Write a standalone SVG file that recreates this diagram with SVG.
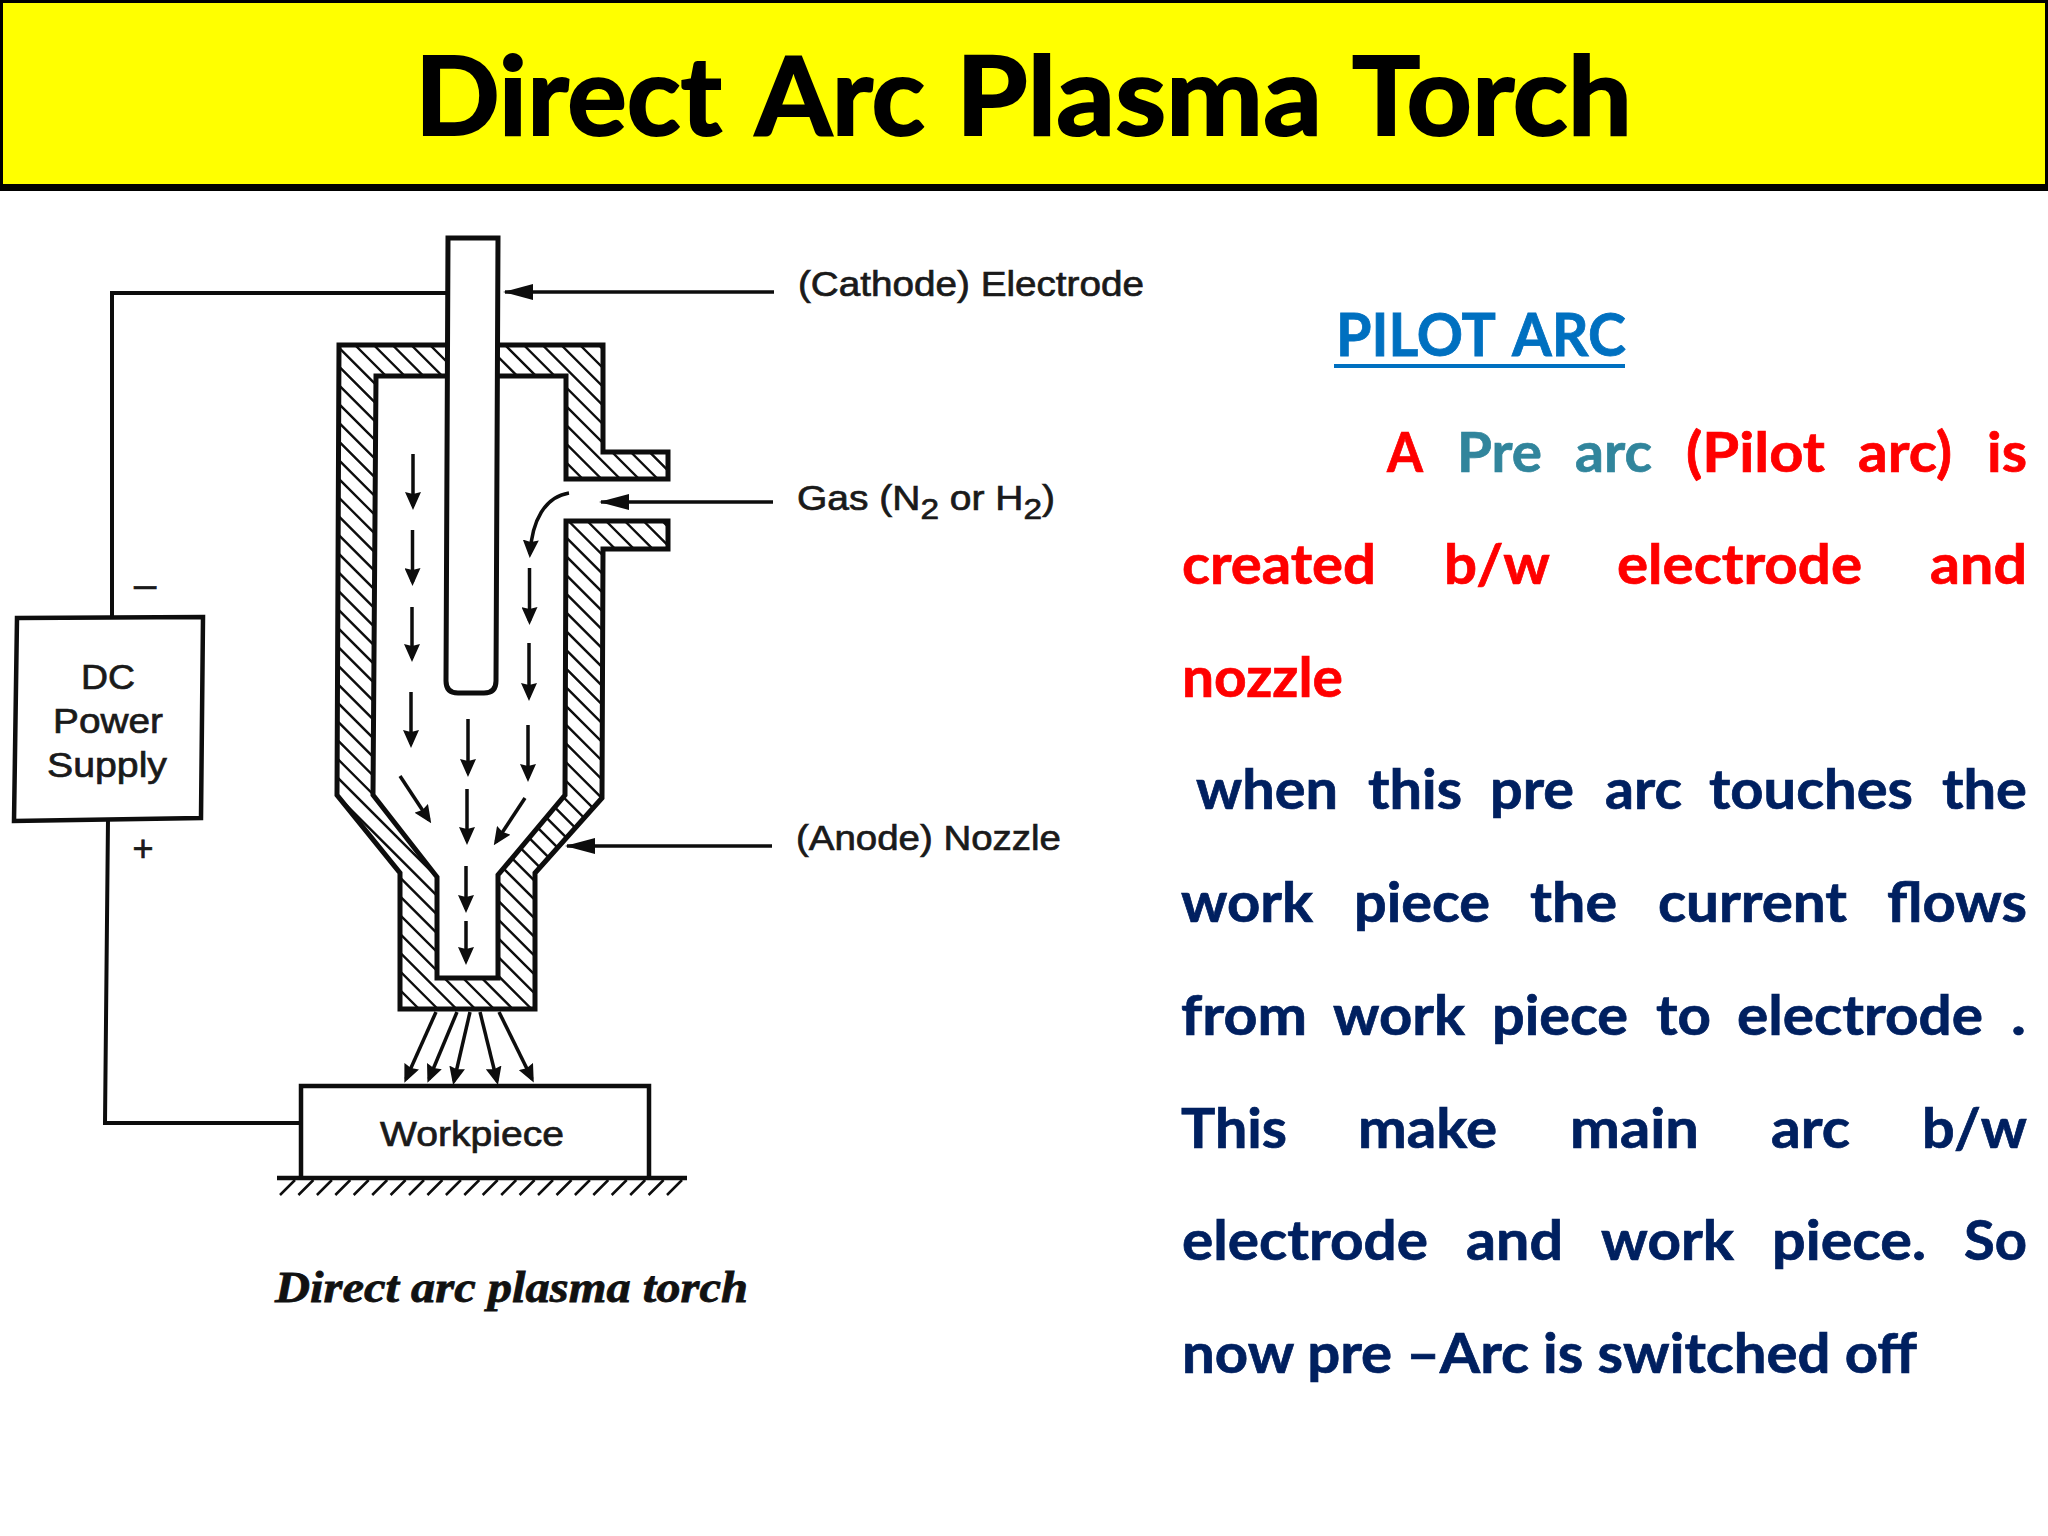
<svg xmlns="http://www.w3.org/2000/svg" width="2048" height="1536" viewBox="0 0 2048 1536">
<style>
.wire{fill:none;stroke:#0d0d0d;stroke-width:4}
.flow{fill:none;stroke:#0d0d0d;stroke-width:3.5;marker-end:url(#head)}
.lead{fill:none;stroke:#0d0d0d;stroke-width:3.5;marker-end:url(#big)}
.lab{font-family:"Liberation Sans",Arial,sans-serif;font-size:35px;fill:#1a1a1a;stroke:#1a1a1a;stroke-width:.7}
.cal{font-family:Lato,"Open Sans",sans-serif;font-weight:700;font-size:55px;stroke-width:.7}
.ttl{font-family:Lato,"Open Sans",sans-serif;font-weight:700;font-size:109px;fill:#000;stroke:#000;stroke-width:2}
.pil{font-family:Lato,"Open Sans",sans-serif;font-weight:700;font-size:60px;fill:#0070c0;stroke:#0070c0;stroke-width:.8}
.r{fill:#ff0000;stroke:#ff0000}.t{fill:#31859c;stroke:#31859c}.n{fill:#002060;stroke:#002060}
</style>
<defs>
<marker id="head" markerUnits="userSpaceOnUse" markerWidth="18" markerHeight="16" refX="14" refY="8" orient="auto"><path d="M0,0 L18,8 L0,16 L2,8Z" fill="#0d0d0d"/></marker>
<marker id="big" markerUnits="userSpaceOnUse" markerWidth="30" markerHeight="16" refX="28" refY="8" orient="auto"><path d="M0,0 L30,8 L0,16Z" fill="#0d0d0d"/></marker>
<clipPath id="bodyClip"><path d="M566,479 H668 V452 H603 V345 H339 L337,795 L400,873 V1009 H535 V873 L602,798 L603,549 H668 V521 H566 L565,795 L498,875 V978 H437 V877 L373,795 L376,376 H566 Z"/></clipPath>
</defs>
<rect width="2048" height="1536" fill="#fff"/>
<g id="title-banner">
<rect x="1.5" y="1.5" width="2045" height="186" fill="#ffff00" stroke="#000" stroke-width="3"/>
<rect x="0" y="184" width="2048" height="7" fill="#000"/>
<text class="ttl" x="415" y="135" textLength="307" lengthAdjust="spacingAndGlyphs">Direct</text>
<text class="ttl" x="755" y="135" textLength="170" lengthAdjust="spacingAndGlyphs">Arc</text>
<text class="ttl" x="956" y="135" textLength="366" lengthAdjust="spacingAndGlyphs">Plasma</text>
<text class="ttl" x="1352" y="135" textLength="280" lengthAdjust="spacingAndGlyphs">Torch</text>
</g>
<g id="connectors">
<path class="wire" d="M448,293 H112 V617"/>
<path class="wire" d="M108,819 L105,1123 H301"/>
<path class="lead" d="M774,292 H505"/>
<path class="lead" d="M773,502 H601"/>
<path class="lead" d="M772,846 H567"/>
<path class="flow" d="M413,454 V506"/>
<path class="flow" d="M412.5,530 V582"/>
<path class="flow" d="M412,607 V658"/>
<path class="flow" d="M411,692 V744"/>
<path class="flow" d="M569,493 C545,497 532,520 530,554"/>
<path class="flow" d="M529.5,568 V621"/>
<path class="flow" d="M529,643 V697"/>
<path class="flow" d="M528,725 V778"/>
<path class="flow" d="M468,719 V773"/>
<path class="flow" d="M467,789 V841"/>
<path class="flow" d="M466,866 V909"/>
<path class="flow" d="M466,921 V961"/>
<path class="flow" d="M400,776 L429,820"/>
<path class="flow" d="M525,798 L496,842"/>
<path class="flow" d="M436,1012 L406,1079"/>
<path class="flow" d="M457,1012 L429,1079"/>
<path class="flow" d="M470,1012 L454,1081"/>
<path class="flow" d="M480,1012 L497,1081"/>
<path class="flow" d="M499,1012 L532,1079"/>
</g>
<g id="torch-body">
<g clip-path="url(#bodyClip)">
<path fill="none" stroke="#0d0d0d" stroke-width="2.3" d="M-325,340l675,675M-306.25,340l675,675M-287.5,340l675,675M-268.75,340l675,675M-250,340l675,675M-231.25,340l675,675M-212.5,340l675,675M-193.75,340l675,675M-175,340l675,675M-156.25,340l675,675M-137.5,340l675,675M-118.75,340l675,675M-100,340l675,675M-81.25,340l675,675M-62.5,340l675,675M-43.75,340l675,675M-25,340l675,675M-6.25,340l675,675M12.5,340l675,675M31.25,340l675,675M50,340l675,675M68.75,340l675,675M87.5,340l675,675M106.25,340l675,675M125,340l675,675M143.75,340l675,675M162.5,340l675,675M181.25,340l675,675M200,340l675,675M218.75,340l675,675M237.5,340l675,675M256.25,340l675,675M275,340l675,675M293.75,340l675,675M312.5,340l675,675M331.25,340l675,675M350,340l675,675M368.75,340l675,675M387.5,340l675,675M406.25,340l675,675M425,340l675,675M443.75,340l675,675M462.5,340l675,675M481.25,340l675,675M500,340l675,675M518.75,340l675,675M537.5,340l675,675M556.25,340l675,675M575,340l675,675M593.75,340l675,675M612.5,340l675,675M631.25,340l675,675M650,340l675,675M668.75,340l675,675"/>
</g>
<path d="M566,479 H668 V452 H603 V345 H339 L337,795 L400,873 V1009 H535 V873 L602,798 L603,549 H668 V521 H566 L565,795 L498,875 V978 H437 V877 L373,795 L376,376 H566 Z" fill="none" stroke="#0d0d0d" stroke-width="5" stroke-linejoin="miter"/>
</g>
<g id="electrode">
<path d="M448,238 H498 L496,681 Q496,693 484,693 H458 Q446,693 446,681 Z" fill="#fff" stroke="#0d0d0d" stroke-width="5"/>
</g>
<g id="power-supply">
<path d="M17,618 L203,617 L201,818 L14,821 Z" fill="#fff" stroke="#0d0d0d" stroke-width="4.5"/>
<text class="lab" x="81" y="689" textLength="54" lengthAdjust="spacingAndGlyphs">DC</text>
<text class="lab" x="53" y="733" textLength="110" lengthAdjust="spacingAndGlyphs">Power</text>
<text class="lab" x="47" y="777" textLength="120" lengthAdjust="spacingAndGlyphs">Supply</text>
<text class="lab" x="145" y="598" text-anchor="middle" style="font-size:40px">–</text>
<text class="lab" x="143" y="861" text-anchor="middle" style="font-size:36px">+</text>
</g>
<g id="workpiece">
<path d="M301,1177 V1086 H649 V1177" fill="#fff" stroke="#0d0d0d" stroke-width="4.5"/>
<path d="M277,1178 H687" fill="none" stroke="#0d0d0d" stroke-width="4.5"/>
<path d="M280,1195l15,-15M298.4,1195l15,-15M316.9,1195l15,-15M335.3,1195l15,-15M353.7,1195l15,-15M372.2,1195l15,-15M390.6,1195l15,-15M409,1195l15,-15M427.4,1195l15,-15M445.9,1195l15,-15M464.3,1195l15,-15M482.7,1195l15,-15M501.2,1195l15,-15M519.6,1195l15,-15M538,1195l15,-15M556.5,1195l15,-15M574.9,1195l15,-15M593.3,1195l15,-15M611.7,1195l15,-15M630.2,1195l15,-15M648.6,1195l15,-15M667,1195l15,-15" fill="none" stroke="#0d0d0d" stroke-width="2.5"/>
<text class="lab" x="380" y="1146" textLength="184" lengthAdjust="spacingAndGlyphs">Workpiece</text>
</g>
<g id="labels">
<text class="lab" x="798" y="296" textLength="346" lengthAdjust="spacingAndGlyphs">(Cathode) Electrode</text>
<text class="lab" x="797" y="510" textLength="258" lengthAdjust="spacingAndGlyphs">Gas (N<tspan dy="9" font-size="30">2</tspan><tspan dy="-9"> or H</tspan><tspan dy="9" font-size="30">2</tspan><tspan dy="-9">)</tspan></text>
<text class="lab" x="796" y="850" textLength="265" lengthAdjust="spacingAndGlyphs">(Anode) Nozzle</text>
<text x="275" y="1302" font-family="'Liberation Serif','Times New Roman',serif" font-weight="700" font-style="italic" font-size="45" fill="#111" stroke="#111" stroke-width=".8" textLength="473" lengthAdjust="spacingAndGlyphs">Direct arc plasma torch</text>
</g>
<g id="pilot-arc-text">
<text class="pil" x="1336" y="356" textLength="160" lengthAdjust="spacingAndGlyphs">PILOT</text>
<text class="pil" x="1512" y="356" textLength="114" lengthAdjust="spacingAndGlyphs">ARC</text>
<rect x="1334" y="364" width="291" height="4" fill="#0070c0"/>
<text class="cal r" x="1387" y="472" textLength="36" lengthAdjust="spacingAndGlyphs">A</text>
<text class="cal t" x="1457" y="472" textLength="85" lengthAdjust="spacingAndGlyphs">Pre</text>
<text class="cal t" x="1575" y="472" textLength="77" lengthAdjust="spacingAndGlyphs">arc</text>
<text class="cal r" x="1686" y="472" textLength="139" lengthAdjust="spacingAndGlyphs">(Pilot</text>
<text class="cal r" x="1858" y="472" textLength="94" lengthAdjust="spacingAndGlyphs">arc)</text>
<text class="cal r" x="1987" y="472" textLength="40" lengthAdjust="spacingAndGlyphs">is</text>
<text class="cal r" x="1182" y="584" textLength="194" lengthAdjust="spacingAndGlyphs">created</text>
<text class="cal r" x="1444" y="584" textLength="106" lengthAdjust="spacingAndGlyphs">b/w</text>
<text class="cal r" x="1617" y="584" textLength="245" lengthAdjust="spacingAndGlyphs">electrode</text>
<text class="cal r" x="1930" y="584" textLength="97" lengthAdjust="spacingAndGlyphs">and</text>
<text class="cal r" x="1182" y="697" textLength="161" lengthAdjust="spacingAndGlyphs">nozzle</text>
<text class="cal n" x="1196" y="809" textLength="142" lengthAdjust="spacingAndGlyphs">when</text>
<text class="cal n" x="1368" y="809" textLength="94" lengthAdjust="spacingAndGlyphs">this</text>
<text class="cal n" x="1490" y="809" textLength="84" lengthAdjust="spacingAndGlyphs">pre</text>
<text class="cal n" x="1605" y="809" textLength="77" lengthAdjust="spacingAndGlyphs">arc</text>
<text class="cal n" x="1709" y="809" textLength="204" lengthAdjust="spacingAndGlyphs">touches</text>
<text class="cal n" x="1942" y="809" textLength="85" lengthAdjust="spacingAndGlyphs">the</text>
<text class="cal n" x="1181" y="922" textLength="132" lengthAdjust="spacingAndGlyphs">work</text>
<text class="cal n" x="1354" y="922" textLength="136" lengthAdjust="spacingAndGlyphs">piece</text>
<text class="cal n" x="1530" y="922" textLength="87" lengthAdjust="spacingAndGlyphs">the</text>
<text class="cal n" x="1658" y="922" textLength="189" lengthAdjust="spacingAndGlyphs">current</text>
<text class="cal n" x="1887" y="922" textLength="140" lengthAdjust="spacingAndGlyphs">flows</text>
<text class="cal n" x="1181" y="1035" textLength="126" lengthAdjust="spacingAndGlyphs">from</text>
<text class="cal n" x="1333" y="1035" textLength="132" lengthAdjust="spacingAndGlyphs">work</text>
<text class="cal n" x="1492" y="1035" textLength="136" lengthAdjust="spacingAndGlyphs">piece</text>
<text class="cal n" x="1656" y="1035" textLength="55" lengthAdjust="spacingAndGlyphs">to</text>
<text class="cal n" x="1737" y="1035" textLength="246" lengthAdjust="spacingAndGlyphs">electrode</text>
<text class="cal n" x="2011" y="1035" textLength="15" lengthAdjust="spacingAndGlyphs">.</text>
<text class="cal n" x="1181" y="1148" textLength="106" lengthAdjust="spacingAndGlyphs">This</text>
<text class="cal n" x="1358" y="1148" textLength="139" lengthAdjust="spacingAndGlyphs">make</text>
<text class="cal n" x="1570" y="1148" textLength="129" lengthAdjust="spacingAndGlyphs">main</text>
<text class="cal n" x="1771" y="1148" textLength="79" lengthAdjust="spacingAndGlyphs">arc</text>
<text class="cal n" x="1922" y="1148" textLength="105" lengthAdjust="spacingAndGlyphs">b/w</text>
<text class="cal n" x="1182" y="1260" textLength="246" lengthAdjust="spacingAndGlyphs">electrode</text>
<text class="cal n" x="1466" y="1260" textLength="97" lengthAdjust="spacingAndGlyphs">and</text>
<text class="cal n" x="1601" y="1260" textLength="133" lengthAdjust="spacingAndGlyphs">work</text>
<text class="cal n" x="1772" y="1260" textLength="154" lengthAdjust="spacingAndGlyphs">piece.</text>
<text class="cal n" x="1964" y="1260" textLength="63" lengthAdjust="spacingAndGlyphs">So</text>
<text class="cal n" x="1182" y="1373" textLength="735" lengthAdjust="spacingAndGlyphs">now pre –Arc is switched off</text>
</g>
</svg>
